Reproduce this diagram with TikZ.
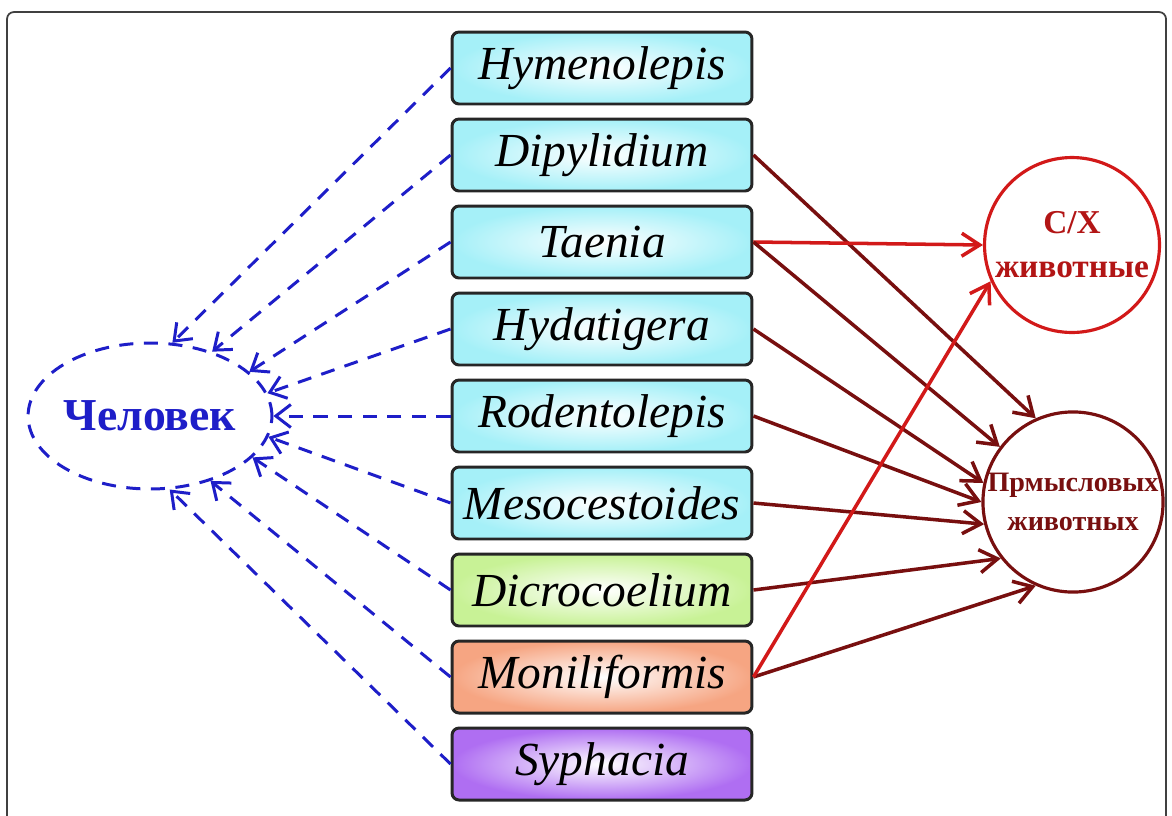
\documentclass[tikz,border=0pt]{standalone}
\usepackage{fontspec}
\setmainfont{Liberation Serif}[ItalicFont={Liberation Serif Italic},
  BoldFont={Liberation Serif Bold}]
\usetikzlibrary{positioning}
\usetikzlibrary{arrows.meta}
\usetikzlibrary{shapes.geometric}

\definecolor{manblue}{RGB}{30,30,200}
\definecolor{farmred}{RGB}{210,25,25}
\definecolor{gamered}{RGB}{120,15,15}
\definecolor{cyanedge}{RGB}{165,240,248}
\definecolor{greenedge}{RGB}{200,242,150}
\definecolor{orangeedge}{RGB}{246,165,130}
\definecolor{violetedge}{RGB}{175,110,242}

\begin{document}
\begin{tikzpicture}
  [x = 0.02cm, y = -0.02cm,
   box/.style = {draw=black!85, line width=1.7pt, rounded corners=4pt,
     minimum width=6cm, minimum height=1.44cm, inner color=white,
     font=\fontsize{27}{30}\selectfont\itshape},
   tohuman/.style = {manblue, line width=1.7pt, dash pattern=on 8pt off 6pt,
     -{Straight Barb[length=3mm, width=4.6mm]}},
   toanimal/.style = {line width=2pt,
     -{Straight Barb[length=3.6mm, width=4.6mm]}}]
  \useasboundingbox (0, 0) rectangle (1172, 815);
  \draw [black!75, line width=1pt, rounded corners=4pt] (7, 12) rectangle (1166, 840);

  \node [box, outer color=cyanedge] (hym) at (602, 68) {Hymenolepis};
  \node [box, outer color=cyanedge] (dip) at (602, 155) {Dipylidium};
  \node [box, outer color=cyanedge] (tae) at (602, 242) {Taenia};
  \node [box, outer color=cyanedge] (hyd) at (602, 329) {Hydatigera};
  \node [box, outer color=cyanedge] (rod) at (602, 416) {Rodentolepis};
  \node [box, outer color=cyanedge] (mes) at (602, 503) {Mesocestoides};
  \node [box, outer color=greenedge] (dic) at (602, 590) {Dicrocoelium};
  \node [box, outer color=orangeedge] (mon) at (602, 677) {Moniliformis};
  \node [box, outer color=violetedge] (syp) at (602, 764) {Syphacia};

  \node [ellipse, draw=manblue, line width=1.7pt, dash pattern=on 8pt off 6pt,
    minimum width=4.68cm, minimum height=2.92cm, inner sep=0pt,
    text=manblue, font=\fontsize{26}{28}\selectfont\bfseries] (man) at (150, 416) {Человек};

  \node [circle, draw=farmred, line width=1.8pt, minimum size=3.5cm, inner sep=0pt,
    align=center, text=farmred!85!black, font=\fontsize{19}{25}\selectfont\bfseries]
    (farm) at (1072, 245) {С/Х\\животные};
  \node [circle, draw=gamered, line width=1.8pt, minimum size=3.5cm, inner sep=0pt,
    align=center, text=gamered, font=\fontsize{16}{22}\selectfont\bfseries]
    (game) at (1073, 502) {Прмысловых\\животных};

  % everything reaches man
  \draw [tohuman] (hym.west) -- (man.73);
  \draw [tohuman] (dip.west) -- (man.46);
  \draw [tohuman] (tae.west) -- (man.24);
  \draw [tohuman] (hyd.west) -- (man.11);
  \draw [tohuman] (rod.west) -- (man.0);
  \draw [tohuman] (mes.west) -- (man.-10);
  \draw [tohuman] (dic.west) -- (man.-22);
  \draw [tohuman] (mon.west) -- (man.-47);
  \draw [tohuman] (syp.west) -- (man.-75);

  \draw [toanimal, gamered] (dip.east) -- (game.114);
  \draw [toanimal, farmred] (tae.east) -- (farm.180);
  \draw [toanimal, gamered] (tae.east) -- (game.143);
  \draw [toanimal, gamered] (hyd.east) -- (game.168);
  \draw [toanimal, gamered] (rod.east) -- (game.180);
  \draw [toanimal, gamered] (mes.east) -- (game.194);
  \draw [toanimal, gamered] (dic.east) -- (game.218);
  \draw [toanimal, gamered] (mon.east) -- (game.246);
  \draw [toanimal, farmred] (mon.east) -- (farm.204);
\end{tikzpicture}
\end{document}
